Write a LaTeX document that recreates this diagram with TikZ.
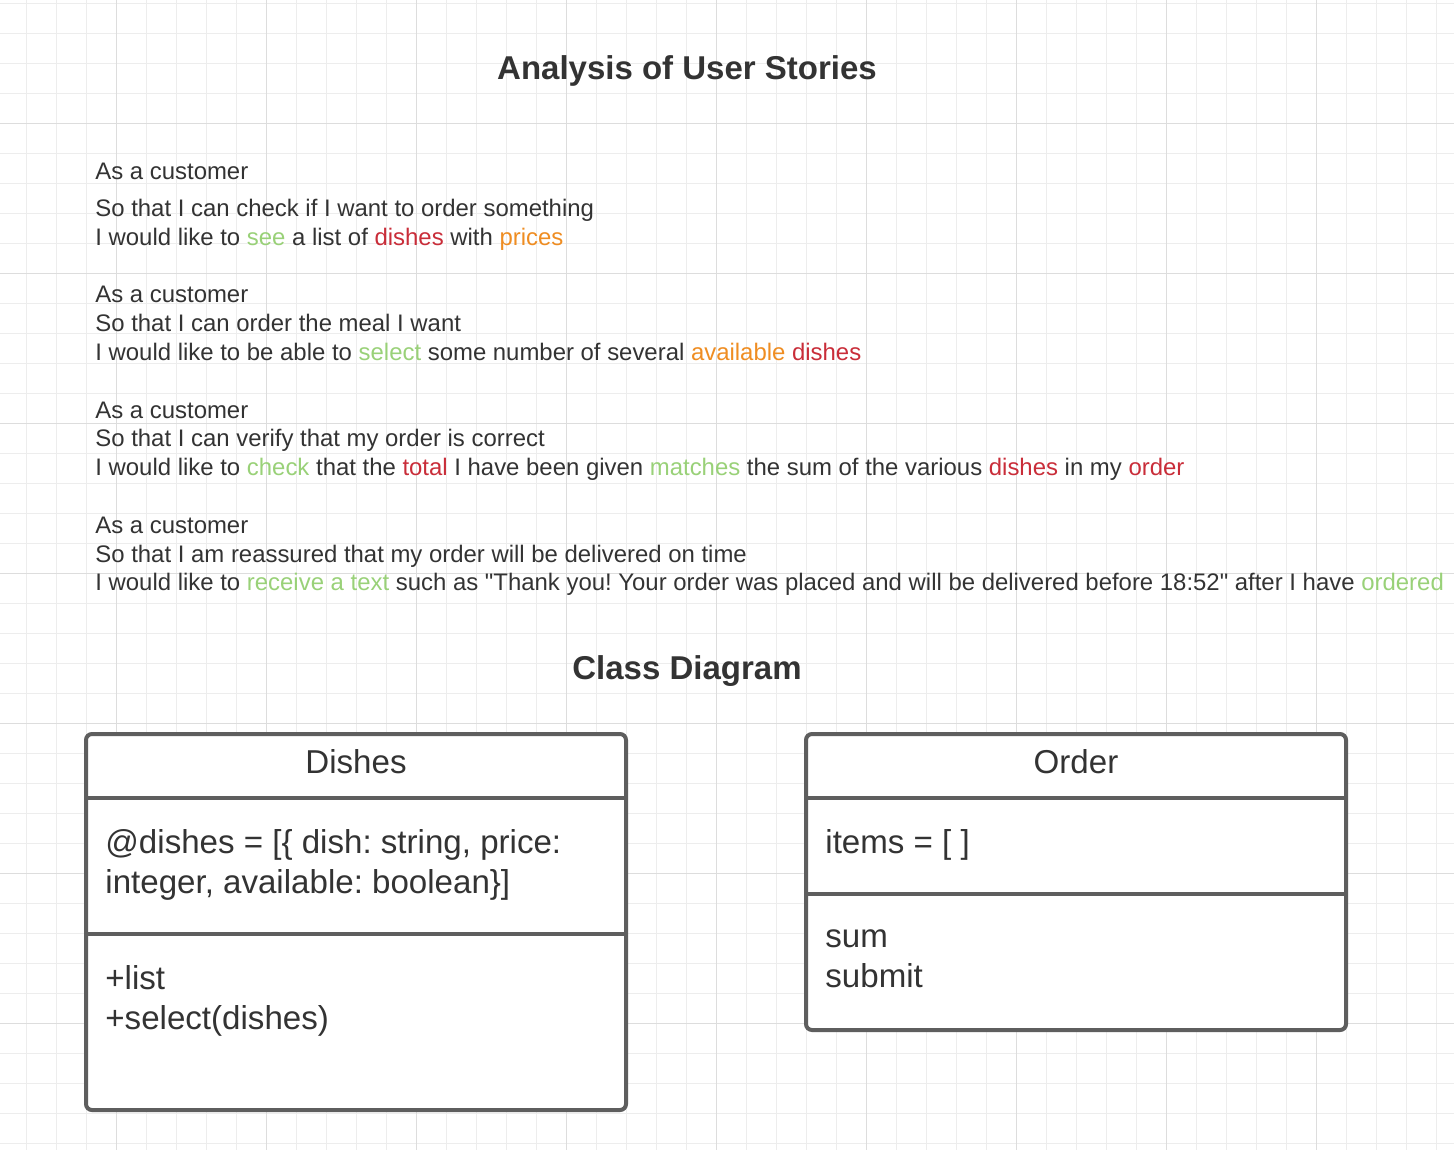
\documentclass[tikz,border=0pt]{standalone}
\usepackage{fontspec}
\setmainfont{Liberation Sans}
\newfontfamily\plainsans{Liberation Sans}
\usepackage{xcolor}
\usetikzlibrary{positioning}

\definecolor{ink}{HTML}{333333}
\definecolor{storygreen}{HTML}{99D178}
\definecolor{storyred}{HTML}{C92D39}
\definecolor{storyorange}{HTML}{EF8D22}
\definecolor{boxline}{HTML}{5E5E5E}
\definecolor{gridminor}{HTML}{EDEDED}
\definecolor{gridmajor}{HTML}{DDDDDD}

\tikzset{
    story/.style={anchor=base west, inner sep=0pt, text=ink, font=\plainsans\fontsize{11.96}{14}\selectfont},
    heading/.style={anchor=base, inner sep=0pt, text=ink, font=\fontsize{16.5}{20}\selectfont\bfseries},
    umlbox/.style={draw=boxline, line width=2pt, fill=white, rounded corners=3pt},
    umlrule/.style={draw=boxline, line width=2pt},
    umlhead/.style={anchor=base, inner sep=0pt, text=ink, font=\fontsize{16.55}{20}\selectfont},
    umltext/.style={anchor=base west, inner sep=0pt, text=ink, font=\fontsize{16.55}{20}\selectfont}
}

\begin{document}
\frenchspacing
\begin{tikzpicture}[x=0.5pt, y=-0.5pt]
    \useasboundingbox[fill=white] (0,0) rectangle (1454,1150);

    % grid
    \foreach \k in {0,...,47} \draw[gridminor, line width=0.5pt] ({26.7+30*\k},0) -- ({26.7+30*\k},1150);
    \foreach \k in {0,...,38} \draw[gridminor, line width=0.5pt] (0,{3.3+30*\k}) -- (1454,{3.3+30*\k});
    \foreach \k in {0,...,8} \draw[gridmajor, line width=0.5pt] ({116.7+150*\k},0) -- ({116.7+150*\k},1150);
    \foreach \k in {0,...,6} \draw[gridmajor, line width=0.5pt] (0,{123.3+150*\k}) -- (1454,{123.3+150*\k});

    \node[heading] (title) at (687,80) {Analysis of User Stories};

    % user stories
    \node[story] (s1a) at (95,180) {As a customer};
    \node[story] (s1b) at (95,216) {So that I can check if I want to order something};
    \node[story] (s1c) at (95,245) {I would like to \textcolor{storygreen}{see} a list of \textcolor{storyred}{dishes} with \textcolor{storyorange}{prices}};

    \node[story] (s2a) at (95,302) {As a customer};
    \node[story] (s2b) at (95,331) {So that I can order the meal I want};
    \node[story] (s2c) at (95,360) {I would like to be able to \textcolor{storygreen}{select} some number of several \textcolor{storyorange}{available} \textcolor{storyred}{dishes}};

    \node[story] (s3a) at (95,418) {As a customer};
    \node[story] (s3b) at (95,446) {So that I can verify that my order is correct};
    \node[story] (s3c) at (95,475) {I would like to \textcolor{storygreen}{check} that the \textcolor{storyred}{total} I have been given \textcolor{storygreen}{matches} the sum of the various \textcolor{storyred}{dishes} in my \textcolor{storyred}{order}};

    \node[story] (s4a) at (95,533) {As a customer};
    \node[story] (s4b) at (95,562) {So that I am reassured that my order will be delivered on time};
    \node[story] (s4c) at (95,590) {I would like to \textcolor{storygreen}{receive a text} such as "Thank you! Your order was placed and will be delivered before 18:52" after I have \textcolor{storygreen}{ordered}};

    \node[heading] (classtitle) at (687,679) {Class Diagram};

    % Dishes class
    \draw[umlbox] (86,734) rectangle (626,1110);
    \draw[umlrule] (86,797.5) -- (626,797.5);
    \draw[umlrule] (86,933.5) -- (626,933.5);
    \node[umlhead] (dishes) at (356,773) {Dishes};
    \node[umltext] (dishattr1) at (105,853.5) {@dishes = [\{ dish: string, price:};
    \node[umltext] (dishattr2) at (105,893.5) {integer, available: boolean\}]};
    \node[umltext] (dishop1) at (105,989.5) {+list};
    \node[umltext] (dishop2) at (105,1029.5) {+select(dishes)};

    % Order class
    \draw[umlbox] (806,734) rectangle (1346,1030);
    \draw[umlrule] (806,797.5) -- (1346,797.5);
    \draw[umlrule] (806,894) -- (1346,894);
    \node[umlhead] (order) at (1076,773) {Order};
    \node[umltext] (orderattr) at (825,853.5) {items = [ ]};
    \node[umltext] (orderop1) at (825,947.5) {sum};
    \node[umltext] (orderop2) at (825,987.5) {submit};
\end{tikzpicture}
\end{document}
